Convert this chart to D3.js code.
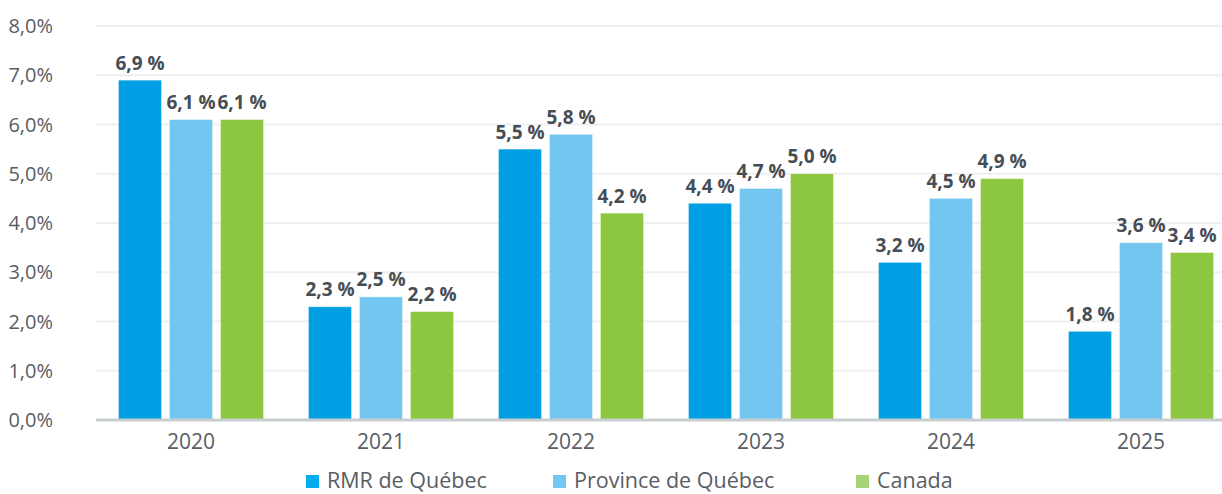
<!DOCTYPE html>
<html lang="fr">
<head>
<meta charset="utf-8">
<title>Croissance</title>
<script src="https://cdn.jsdelivr.net/npm/d3@7"></script>
<style>
  body { margin: 0; background: #fff; }
  text { font-family: "Open Sans", "Lato", sans-serif; }
</style>
</head>
<body>
<script>
// data
var years = ["2020", "2021", "2022", "2023", "2024", "2025"];
var series = ["RMR de Québec", "Province de Québec", "Canada"];
var rmrQuebec = [6.9, 2.3, 5.5, 4.4, 3.2, 1.8];
var provQuebec = [6.1, 2.5, 5.8, 4.7, 4.5, 3.6];
var canada = [6.1, 2.2, 4.2, 5.0, 4.9, 3.4];
var yTicks = [0, 1, 2, 3, 4, 5, 6, 7, 8];

var colors = ["#009fe3", "#73c6ef", "#8dc63f"];
var legendColors = ["#00aeef", "#73c6ef", "#a6d278"];

var width = 1222, height = 494;
var values = [rmrQuebec, provQuebec, canada];

var svg = d3.select("body").append("svg")
            .attr("width", width)
            .attr("height", height);

var y = d3.scaleLinear().domain([0, 8]).range([420, 26]);

var x0 = d3.scaleBand().domain(years)
           .range([96, 1236])
           .paddingInner(0.2368)
           .paddingOuter(0.1184);

var x1 = d3.scaleBand().domain(series)
           .range([0, x0.bandwidth()])
           .paddingInner(0.157);

// gridlines
svg.append("g").selectAll("line")
   .data(yTicks.filter(function(d) { return d > 0; }))
   .enter().append("line")
   .attr("x1", 96).attr("x2", width)
   .attr("y1", function(d) { return y(d); })
   .attr("y2", function(d) { return y(d); })
   .attr("stroke", "#efefef")
   .attr("stroke-width", 2);

// y tick labels
svg.append("g").selectAll("text")
   .data(yTicks)
   .enter().append("text")
   .attr("x", 53)
   .attr("y", function(d) { return y(d); })
   .attr("dy", "0.35em")
   .attr("text-anchor", "end")
   .attr("font-size", 20)
   .attr("fill", "#585d63")
   .text(function(d) { return d3.format(".1f")(d).replace(".", ",") + "%"; });

// bars
var groups = svg.append("g").selectAll("g")
   .data(years)
   .enter().append("g")
   .attr("transform", function(d) { return "translate(" + x0(d) + ",0)"; });

function rows(d, i) {
    return series.map(function(s, j) { return {s: s, j: j, v: values[j][i]}; });
}

groups.selectAll("rect")
   .data(rows)
   .enter().append("rect")
   .attr("x", function(d) { return x1(d.s); })
   .attr("y", function(d) { return y(d.v); })
   .attr("width", x1.bandwidth())
   .attr("height", function(d) { return y(0) - y(d.v); })
   .attr("fill", function(d) { return colors[d.j]; })
   .attr("stroke", "rgba(255,255,255,0.35)")
   .attr("stroke-width", 1);

groups.selectAll("text")
   .data(rows)
   .enter().append("text")
   .attr("x", function(d) { return x1(d.s) + x1.bandwidth() / 2; })
   .attr("y", function(d) { return y(d.v) - 10.5; })
   .attr("text-anchor", "middle")
   .attr("font-size", 19)
   .attr("font-weight", "bold")
   .attr("fill", "#474d55")
   .text(function(d) { return d3.format(".1f")(d.v).replace(".", ",") + " %"; });

// x axis line + year labels
svg.append("line")
   .attr("x1", 96).attr("x2", width)
   .attr("y1", 420).attr("y2", 420)
   .attr("stroke", "#c8cdd0")
   .attr("stroke-width", 3);

svg.append("g").selectAll("text")
   .data(years)
   .enter().append("text")
   .attr("x", function(d) { return x0(d) + x0.bandwidth() / 2; })
   .attr("y", 449)
   .attr("text-anchor", "middle")
   .attr("font-size", 21)
   .attr("fill", "#585d63")
   .text(function(d) { return d; });

// legend
var legendX = [306, 553, 856];
var legend = svg.append("g").selectAll("g")
   .data(series)
   .enter().append("g")
   .attr("transform", function(d, i) { return "translate(" + legendX[i] + ",475)"; });

legend.append("rect")
   .attr("width", 13).attr("height", 13)
   .attr("fill", function(d, i) { return legendColors[i]; });

legend.append("text")
   .attr("x", 21)
   .attr("y", 13)
   .attr("font-size", 21.5)
   .attr("fill", "#585d63")
   .text(function(d) { return d; });
</script>
</body>
</html>
